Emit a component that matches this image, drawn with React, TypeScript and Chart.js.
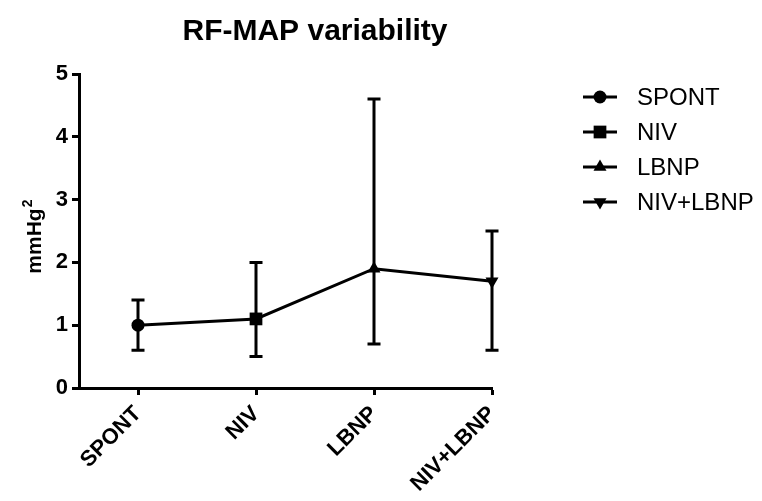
import React, { useEffect, useRef } from 'react';
import { Chart, registerables } from 'chart.js';
import { drawPoint } from 'chart.js/helpers';

Chart.register(...registerables);

const chartTitle = 'RF-MAP variability';
const yAxisTitle = 'mmHg';
const yAxisTitleSup = '2';
const categories = ['SPONT', 'NIV', 'LBNP', 'NIV+LBNP'];
const means = [1.0, 1.1, 1.9, 1.7];
const upperErr = [1.4, 2.0, 4.6, 2.5];
const lowerErr = [0.6, 0.5, 0.7, 0.6];
const yMin = 0;
const yMax = 5;
const markerStyles = ['circle', 'rect', 'triangle', 'triangle'];
const markerRotations = [0, 0, 0, 180];
const markerRadii = [6.5, 9, 7.5, 7.5];

const FONT = '"Liberation Sans", Arial, Helvetica, sans-serif';
const INK = '#000000';

const errorBarPlugin = {
  id: 'errorBars',
  beforeDatasetsDraw(chart: any) {
    const ctx = chart.ctx;
    const xs = chart.scales.x;
    const ys = chart.scales.y;
    ctx.save();
    ctx.strokeStyle = INK;
    ctx.lineWidth = 3;
    ctx.lineCap = 'butt';
    categories.forEach((_, i) => {
      const x = xs.getPixelForValue(i);
      const yt = ys.getPixelForValue(upperErr[i]);
      const yb = ys.getPixelForValue(lowerErr[i]);
      const hw = 6.5;
      ctx.beginPath();
      ctx.moveTo(x, yt);
      ctx.lineTo(x, yb);
      ctx.moveTo(x - hw, yt);
      ctx.lineTo(x + hw, yt);
      ctx.moveTo(x - hw, yb);
      ctx.lineTo(x + hw, yb);
      ctx.stroke();
    });
    ctx.restore();
  },
};

const textPlugin = {
  id: 'textDecor',
  afterDraw(chart: any) {
    const ctx = chart.ctx;
    ctx.save();
    ctx.fillStyle = INK;
    // title
    ctx.font = `bold 30px ${FONT}`;
    ctx.textAlign = 'center';
    ctx.textBaseline = 'middle';
    ctx.fillText(chartTitle, 315, 32);
    // y axis title
    ctx.save();
    ctx.translate(41, 241);
    ctx.rotate(-Math.PI / 2);
    ctx.font = `bold 21px ${FONT}`;
    ctx.textAlign = 'center';
    ctx.textBaseline = 'alphabetic';
    const w = ctx.measureText(yAxisTitle).width;
    ctx.fillText(yAxisTitle, 0, 0);
    ctx.font = `bold 14px ${FONT}`;
    ctx.textAlign = 'left';
    ctx.fillText(yAxisTitleSup, w / 2 + 1, -9);
    ctx.restore();
    // legend
    ctx.font = `24px ${FONT}`;
    ctx.textAlign = 'left';
    ctx.textBaseline = 'middle';
    ctx.strokeStyle = INK;
    categories.forEach((label, i) => {
      const y = 97 + i * 35;
      ctx.lineWidth = 3;
      ctx.beginPath();
      ctx.moveTo(583, y);
      ctx.lineTo(617, y);
      ctx.stroke();
      ctx.fillStyle = INK;
      drawPoint(ctx, {
        pointStyle: markerStyles[i],
        rotation: markerRotations[i],
        radius: markerRadii[i],
        borderWidth: 0,
      } as any, 600, y);
      ctx.fillText(label, 637, y + 1);
    });
    ctx.restore();
  },
};

export default function App() {
  const ref = useRef<HTMLCanvasElement | null>(null);
  useEffect(() => {
    document.body.style.margin = '0';
    const canvas = ref.current!;
    const chart = new Chart(canvas, {
      type: 'line',
      data: {
        datasets: [
          {
            data: means.map((m, i) => ({ x: i, y: m })),
            borderColor: INK,
            backgroundColor: INK,
            borderWidth: 3,
            pointStyle: markerStyles as any,
            pointRotation: markerRotations,
            pointRadius: markerRadii,
            pointBorderWidth: 0,
            pointBackgroundColor: INK,
            tension: 0,
            clip: false as any,
          },
        ],
      },
      options: {
        responsive: false,
        animation: false,
        devicePixelRatio: 1,
        layout: { padding: { top: 74, right: 270, left: 0, bottom: 0 } },
        plugins: {
          legend: { display: false },
          title: { display: false },
          tooltip: { enabled: false },
        },
        scales: {
          x: {
            type: 'linear',
            min: -0.5,
            max: categories.length - 1,
            afterBuildTicks: (scale: any) => {
              scale.ticks = categories.map((_, i) => ({ value: i }));
            },
            afterFit: (scale: any) => {
              scale.height = 113;
            },
            ticks: {
              autoSkip: false,
              minRotation: 45,
              maxRotation: 45,
              padding: 6,
              color: INK,
              font: { family: FONT, size: 22, weight: 'bold' },
              callback: (v: any) => categories[Number(v)] ?? '',
            },
            grid: {
              drawOnChartArea: false,
              drawTicks: true,
              tickLength: 7,
              tickWidth: 3,
              tickColor: INK,
            },
            border: { display: true, color: INK, width: 3 },
          },
          y: {
            min: yMin,
            max: yMax,
            afterFit: (scale: any) => {
              scale.width = 79;
            },
            ticks: {
              stepSize: 1,
              padding: 4,
              color: INK,
              font: { family: FONT, size: 22, weight: 'bold' },
            },
            grid: {
              drawOnChartArea: false,
              drawTicks: true,
              tickLength: 7,
              tickWidth: 3,
              tickColor: INK,
            },
            border: { display: true, color: INK, width: 3 },
          },
        },
      },
      plugins: [errorBarPlugin, textPlugin],
    });
    return () => chart.destroy();
  }, []);
  return (
    <div style={{ position: 'fixed', left: 0, top: 0, width: 762, height: 501, background: '#fff' }}>
      <canvas ref={ref} width={762} height={501} />
    </div>
  );
}
